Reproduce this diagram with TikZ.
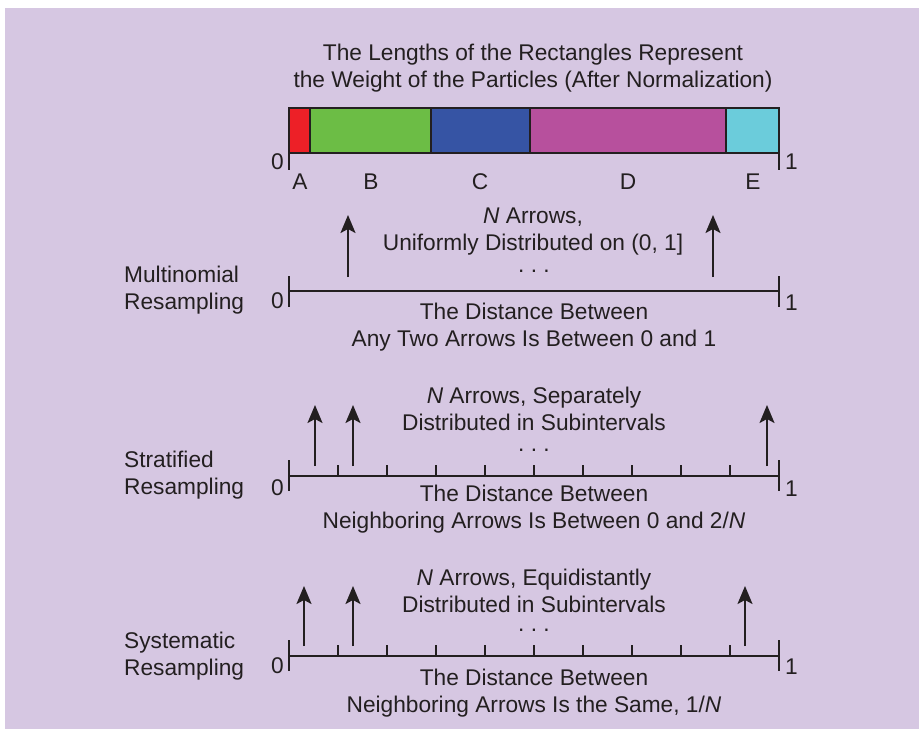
\documentclass[tikz,border=0pt]{standalone}
\usepackage{fontspec}
\setmainfont{Liberation Sans}
\usetikzlibrary{arrows.meta}
\definecolor{bg}{RGB}{214,199,226}
\definecolor{ink}{RGB}{35,31,32}
\definecolor{cA}{RGB}{237,32,39}
\definecolor{cB}{RGB}{108,189,69}
\definecolor{cC}{RGB}{54,84,164}
\definecolor{cD}{RGB}{183,80,157}
\definecolor{cE}{RGB}{107,204,219}
\begin{document}
\begin{tikzpicture}[x=1pt,y=-1pt,
  every node/.style={text=ink,font=\fontsize{22.7}{27}\selectfont,inner sep=0pt},
  txt/.style={anchor=base,align=center},
  lft/.style={anchor=base west,align=left},
  zero/.style={anchor=base east},
  one/.style={anchor=base west},
  seg/.style={draw=ink,line width=2pt},
  axis/.style={draw=ink,line width=2.2pt},
  tickmark/.style={draw=ink,line width=2pt},
  arr/.style={draw=ink,line width=2pt,-{Stealth[length=18pt,width=15pt,inset=4pt]}}]
\fill[white] (0,0) rectangle (919,729);
\fill[bg] (5,8) rectangle (919,729);
\useasboundingbox (0,0) rectangle (919,729);

% title (base = baseline of last line)
\node[txt] (title) at (533,87) {The Lengths of the Rectangles Represent\\the Weight of the Particles (After Normalization)};

% weight bar
\filldraw[seg,fill=cA] (289,108) rectangle (310,153);
\filldraw[seg,fill=cB] (310,108) rectangle (431,153);
\filldraw[seg,fill=cC] (431,108) rectangle (530,153);
\filldraw[seg,fill=cD] (530,108) rectangle (726,153);
\filldraw[seg,fill=cE] (726,108) rectangle (779,153);
\draw[tickmark] (289,153) -- (289,170);
\draw[tickmark] (779,153) -- (779,170);
\node[zero] (z0) at (284,169) {0};
\node[one] (o0) at (785,169) {1};
\node[anchor=base] (lA) at (300,189) {A};
\node[anchor=base] (lB) at (371,189) {B};
\node[anchor=base] (lC) at (480,189) {C};
\node[anchor=base] (lD) at (628,189) {D};
\node[anchor=base] (lE) at (753,189) {E};

% ---------- Multinomial ----------
\draw[axis] (289,291) -- (779,291);
\draw[tickmark] (289,276) -- (289,307);
\draw[tickmark] (779,276) -- (779,307);
\node[lft] (mlab) at (124,309) {Multinomial\\Resampling};
\node[zero] (mz) at (284,308) {0};
\node[one] (mo) at (785,310) {1};
\coordinate (m1b) at (348,277); \coordinate (m1t) at (348,215);
\coordinate (m2b) at (713,277); \coordinate (m2t) at (713,215);
\draw[arr] (m1b) -- (m1t);
\draw[arr] (m2b) -- (m2t);
\node[txt] (mtop) at (533,250) {\textit{N} Arrows,\\Uniformly Distributed on (0, 1]};
\node[anchor=base] (mdots) at (534,272) {.\ .\ .};
\node[txt] (mbot) at (534,346) {The Distance Between\\Any Two Arrows Is Between 0 and 1};

% ---------- Stratified ----------
\draw[axis] (289,476) -- (779,476);
\draw[tickmark] (289,460) -- (289,491);
\draw[tickmark] (779,460) -- (779,491);
\foreach \k in {1,...,9} \draw[tickmark] ({289+49*\k},465) -- ({289+49*\k},476);
\node[lft] (slab) at (124,494) {Stratified\\Resampling};
\node[zero] (sz) at (284,495) {0};
\node[one] (so) at (785,496) {1};
\coordinate (s1b) at (315,466); \coordinate (s1t) at (315,405);
\coordinate (s2b) at (353,466); \coordinate (s2t) at (353,405);
\coordinate (s3b) at (767,466); \coordinate (s3t) at (767,405);
\draw[arr] (s1b) -- (s1t);
\draw[arr] (s2b) -- (s2t);
\draw[arr] (s3b) -- (s3t);
\node[txt] (stop) at (534,430) {\textit{N} Arrows, Separately\\Distributed in Subintervals};
\node[anchor=base] (sdots) at (534,451) {.\ .\ .};
\node[txt] (sbot) at (534,528) {The Distance Between\\Neighboring Arrows Is Between 0 and 2/\textit{N}};

% ---------- Systematic ----------
\draw[axis] (289,656) -- (779,656);
\draw[tickmark] (289,640) -- (289,671);
\draw[tickmark] (779,640) -- (779,671);
\foreach \k in {1,...,9} \draw[tickmark] ({289+49*\k},645) -- ({289+49*\k},656);
\node[lft] (ylab) at (124,675) {Systematic\\Resampling};
\node[zero] (yz) at (284,673) {0};
\node[one] (yo) at (785,674) {1};
\coordinate (y1b) at (304,646); \coordinate (y1t) at (304,586);
\coordinate (y2b) at (353,646); \coordinate (y2t) at (353,586);
\coordinate (y3b) at (745,646); \coordinate (y3t) at (745,586);
\draw[arr] (y1b) -- (y1t);
\draw[arr] (y2b) -- (y2t);
\draw[arr] (y3b) -- (y3t);
\node[txt] (ytop) at (534,612) {\textit{N} Arrows, Equidistantly\\Distributed in Subintervals};
\node[anchor=base] (ydots) at (534,631) {.\ .\ .};
\node[txt] (ybot) at (534,712) {The Distance Between\\Neighboring Arrows Is the Same, 1/\textit{N}};
\end{tikzpicture}
\end{document}
